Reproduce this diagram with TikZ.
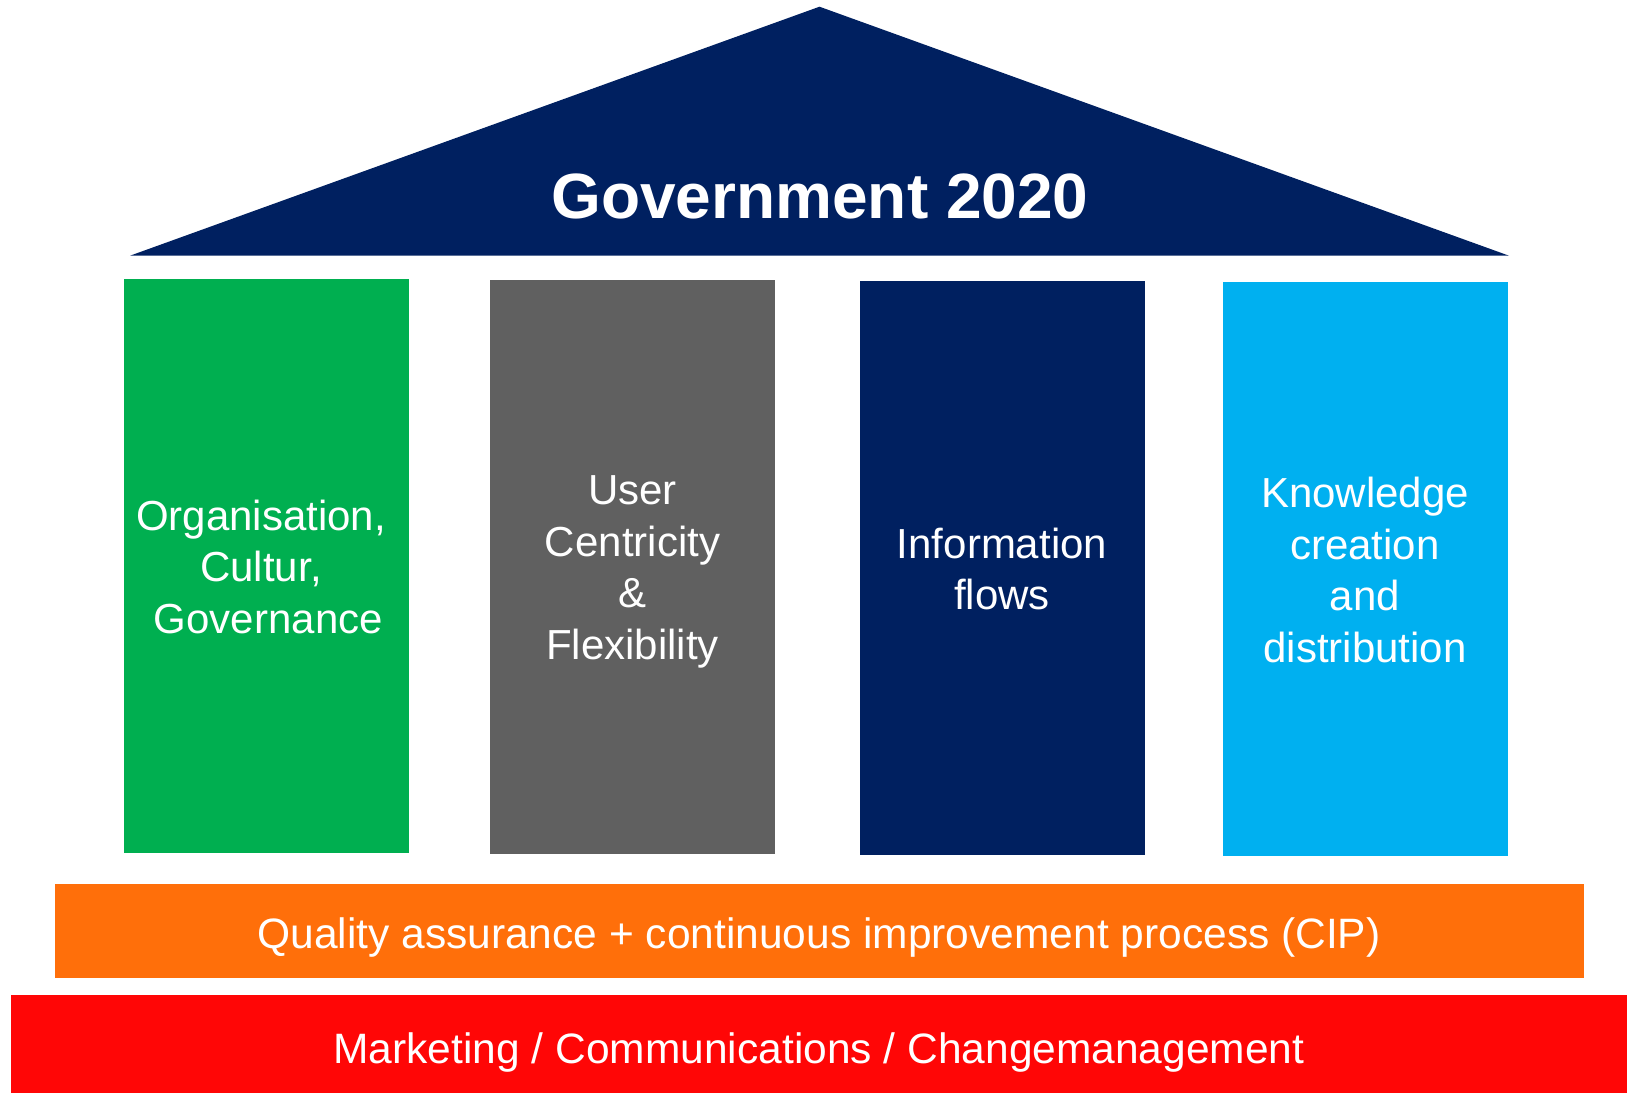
\documentclass[tikz,border=0pt]{standalone}
\usepackage{fontspec}
\setmainfont{Liberation Sans}
\definecolor{cgreen}{HTML}{00AF50}
\definecolor{cgray}{HTML}{606060}
\definecolor{cnavy}{HTML}{002060}
\definecolor{cblue}{HTML}{00B0F0}
\definecolor{corange}{HTML}{FF6F0A}
\definecolor{cred}{HTML}{FF0606}
\begin{document}
\begin{tikzpicture}[x=1bp,y=-1bp,
  col/.style={draw=none,inner sep=0,outer sep=0,anchor=north west},
  coltext/.style={text=white,align=center,inner sep=0,font=\fontsize{42bp}{51.5bp}\selectfont},
  bartext/.style={text=white,inner sep=0,font=\fontsize{42.5bp}{50bp}\selectfont}]
\useasboundingbox (0,0) rectangle (1631,1093);
% roof
\coordinate (rl) at (130,255.7);
\coordinate (ra) at (819.5,6.7);
\coordinate (rr) at (1509,255.7);
\fill[cnavy] (rl) -- (ra) -- (rr) -- cycle;
\node[text=white,inner sep=0,font=\fontsize{64bp}{70bp}\selectfont\bfseries] (roof) at (820,196) {Government 2020};
% columns
\node[col,fill=cgreen,minimum width=285bp,minimum height=574bp] (c1) at (124,279) {};
\node[col,fill=cgray,minimum width=285bp,minimum height=574bp] (c2) at (490,280) {};
\node[col,fill=cnavy,minimum width=285bp,minimum height=574bp] (c3) at (860,281) {};
\node[col,fill=cblue,minimum width=285bp,minimum height=574bp] (c4) at (1223,282) {};
\node[coltext] (t1) at (261,566.5) {Organisation,\\Cultur,\\\hspace*{0.35em}Governance};
\node[coltext] (t2) at (632.5,572) {User\\Centricity\\\&\\Flexibility};
\node[coltext] (t3) at (1002,569) {Information\\flows};
\node[coltext] (t4) at (1365,570) {Knowledge\\creation\\and\\distribution};
% bars
\node[col,fill=corange,minimum width=1529bp,minimum height=94bp] (qa) at (55,884) {};
\node[bartext] (qat) at (819,937) {Quality assurance + continuous improvement process (CIP)};
\node[col,fill=cred,minimum width=1616bp,minimum height=98bp] (mk) at (11,995) {};
\node[bartext] (mkt) at (819,1052) {Marketing / Communications / Changemanagement};
\end{tikzpicture}
\end{document}
